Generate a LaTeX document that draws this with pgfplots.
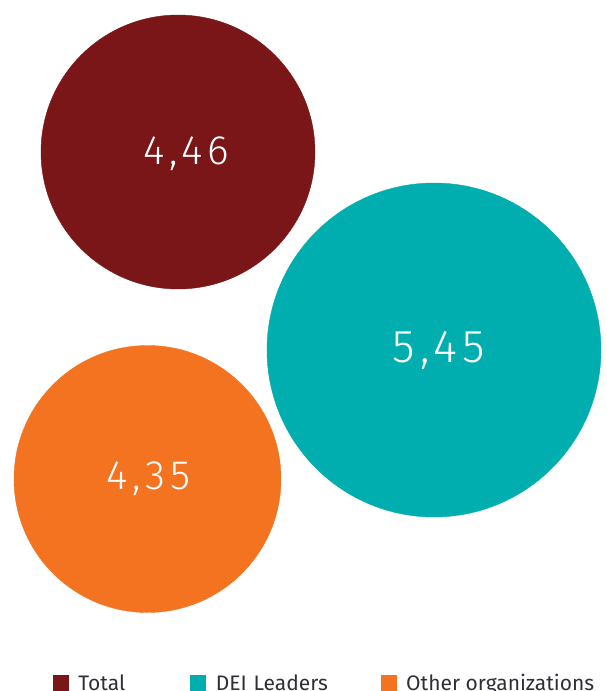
\documentclass[border=0pt]{standalone}
\usepackage{fontspec}
\setmainfont{Fira Sans}
\newfontfamily\lightfont[LetterSpace=12]{Fira Sans Light}
\usepackage{pgfplots}
\pgfplotsset{compat=1.18}

\definecolor{totalred}{RGB}{123,22,24}
\definecolor{deiteal}{RGB}{0,174,176}
\definecolor{otherorange}{RGB}{244,115,33}
\definecolor{legendtext}{RGB}{46,46,56}

% value label inside a bubble, at a given font size
\newcommand{\bubblelabel}[1]{%
  {\lightfont\fontsize{#1}{#1}\selectfont
   \pgfmathprintnumber[fixed,fixed zerofill,precision=2,use comma,assume math mode=true]{\pgfplotspointmeta}}}

\begin{document}
\begin{tikzpicture}
\path[use as bounding box] (0pt,0pt) rectangle (607pt,691pt);
\begin{axis}[
  at={(0pt,0pt)}, anchor=south west,
  width=607pt, height=691pt, scale only axis,
  xmin=0, xmax=607, ymin=0, ymax=691,
  y dir=reverse,
  hide axis, clip=false,
  point meta=explicit,
  every node near coord/.append style={anchor=center, text=white, inner sep=0pt},
  legend columns=3,
  legend style={
    at={(axis cs:53,683)}, anchor=west,
    draw=none, fill=none, inner sep=0pt, outer sep=0pt,
    font=\fontsize{21}{24}\selectfont, text=legendtext,
    nodes={inner sep=0pt},
    /tikz/every odd column/.append style={column sep=10pt},
  },
  legend image code/.code={\fill[#1] (0pt,-7.5pt) rectangle (15pt,7.5pt);},
]
% bubble radius in pt = mark size; label = value
\addplot[only marks, mark=*, mark size=137, color=totalred,
  nodes near coords={\bubblelabel{41}},
  every node near coord/.append style={xshift=8pt, yshift=-2pt}]
  coordinates {(178,152) [4.46]};
\addlegendentry[text width=112pt, align=left]{Total}
\addplot[only marks, mark=*, mark size=167, color=deiteal,
  nodes near coords={\bubblelabel{46}},
  every node near coord/.append style={xshift=5pt}]
  coordinates {(434,350) [5.45]};
\addlegendentry[text width=165pt, align=left]{DEI Leaders}
\addplot[only marks, mark=*, mark size=133.5, color=otherorange,
  nodes near coords={\bubblelabel{41}},
  every node near coord/.append style={xshift=1pt}]
  coordinates {(147.5,479) [4.35]};
\addlegendentry[align=left]{Other organizations}
\end{axis}
\end{tikzpicture}
\end{document}
